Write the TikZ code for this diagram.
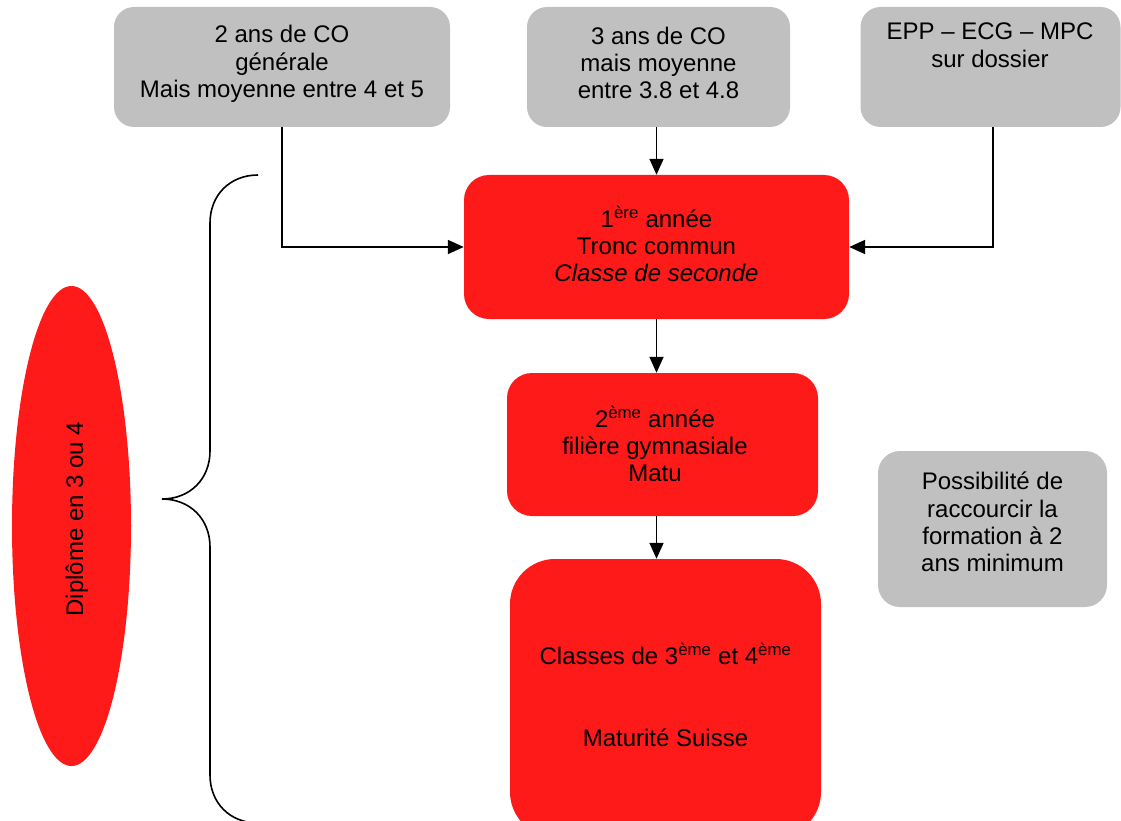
\documentclass[tikz,border=0pt]{standalone}
\usepackage{fontspec}
\setmainfont{Liberation Sans}
\usetikzlibrary{arrows.meta,shapes.geometric}
\definecolor{boxgray}{RGB}{192,192,192}
\definecolor{boxred}{RGB}{255,26,26}
\begin{document}
\begin{tikzpicture}[x=1pt,y=-1pt,
  every node/.style={font=\fontsize{24}{27.3}\selectfont, align=center, inner sep=0pt},
  graybox/.style={fill=boxgray, rounded corners=20pt},
  redbox/.style={fill=boxred, rounded corners=25pt},
  arr/.style={line width=1.7pt, -{Triangle[length=16pt,width=14pt]}},
  bracestyle/.style={line width=1.6pt},
]
\useasboundingbox (0,0) rectangle (1121,821);
\clip (0,0) rectangle (1121,821);

% top gray boxes
\node[graybox, minimum width=336pt, minimum height=120pt] (a) at (282,67) {};
\node (at) at ([yshift=3pt]a.center) {2 ans de CO\\générale\\Mais moyenne entre 4 et 5};
\node[graybox, minimum width=263pt, minimum height=120pt] (b) at (658.5,67) {};
\node (bt) at ([yshift=4pt]b.center) {3 ans de CO\\mais moyenne\\entre 3.8 et 4.8};
\node[graybox, minimum width=260pt, minimum height=120pt] (c) at (990.5,67) {};
\node[anchor=north] (ct) at (990,23) {EPP – ECG – MPC\\sur dossier};
\coordinate (cx) at (993,0);

% red boxes
\node[redbox, minimum width=385pt, minimum height=144pt] (r1) at (656.5,247) {};
\node (r1t) at ([yshift=3pt]r1.center)
  {1\textsuperscript{ère} année\\Tronc commun\\\textit{Classe de seconde}};
\node[redbox, minimum width=311pt, minimum height=143pt] (r2) at (662.5,444.5) {};
\node (r2t) at (655,444) {2\textsuperscript{ème} année\\filière gymnasiale\\Matu};
\node[redbox, rounded corners=45pt, minimum width=311pt, minimum height=278pt] (r3) at (665.5,698) {};
\node (r3t) at ([yshift=3pt]r3.center)
  {Classes de 3\textsuperscript{ème} et 4\textsuperscript{ème}\\[55pt]Maturité Suisse};

% right gray box
\node[graybox, rounded corners=22pt, minimum width=229pt, minimum height=156pt] (g) at (992.5,529) {};
\node (gt) at ([yshift=7pt]g.center)
  {Possibilité de\\raccourcir la\\formation à 2\\ans minimum};

% ellipse
\node[ellipse, fill=boxred, minimum width=119pt, minimum height=480pt] (e) at (71.5,526) {};
\node[rotate=90] (et) at (77,519) {Diplôme en 3 ou 4};

% brace
\draw[bracestyle] (258,175) .. controls (230,175) and (210,195) .. (210,223)
  -- (210,451) .. controls (210,479) and (190,499) .. (162,499)
  .. controls (190,499) and (210,519) .. (210,547)
  -- (210,775) .. controls (210,803) and (230,823) .. (258,823);

% connectors
\draw[arr] (a.south) |- (r1.west);
\draw[arr] (c.south -| cx) |- (r1.east);
\draw[arr] (b.south -| r1.north) -- (r1.north);
\draw[arr] (r1.south) -- (r1.south |- r2.north);
\draw[arr] (r2.south -| r1.south) -- (r3.north -| r1.south);
\end{tikzpicture}
\end{document}
